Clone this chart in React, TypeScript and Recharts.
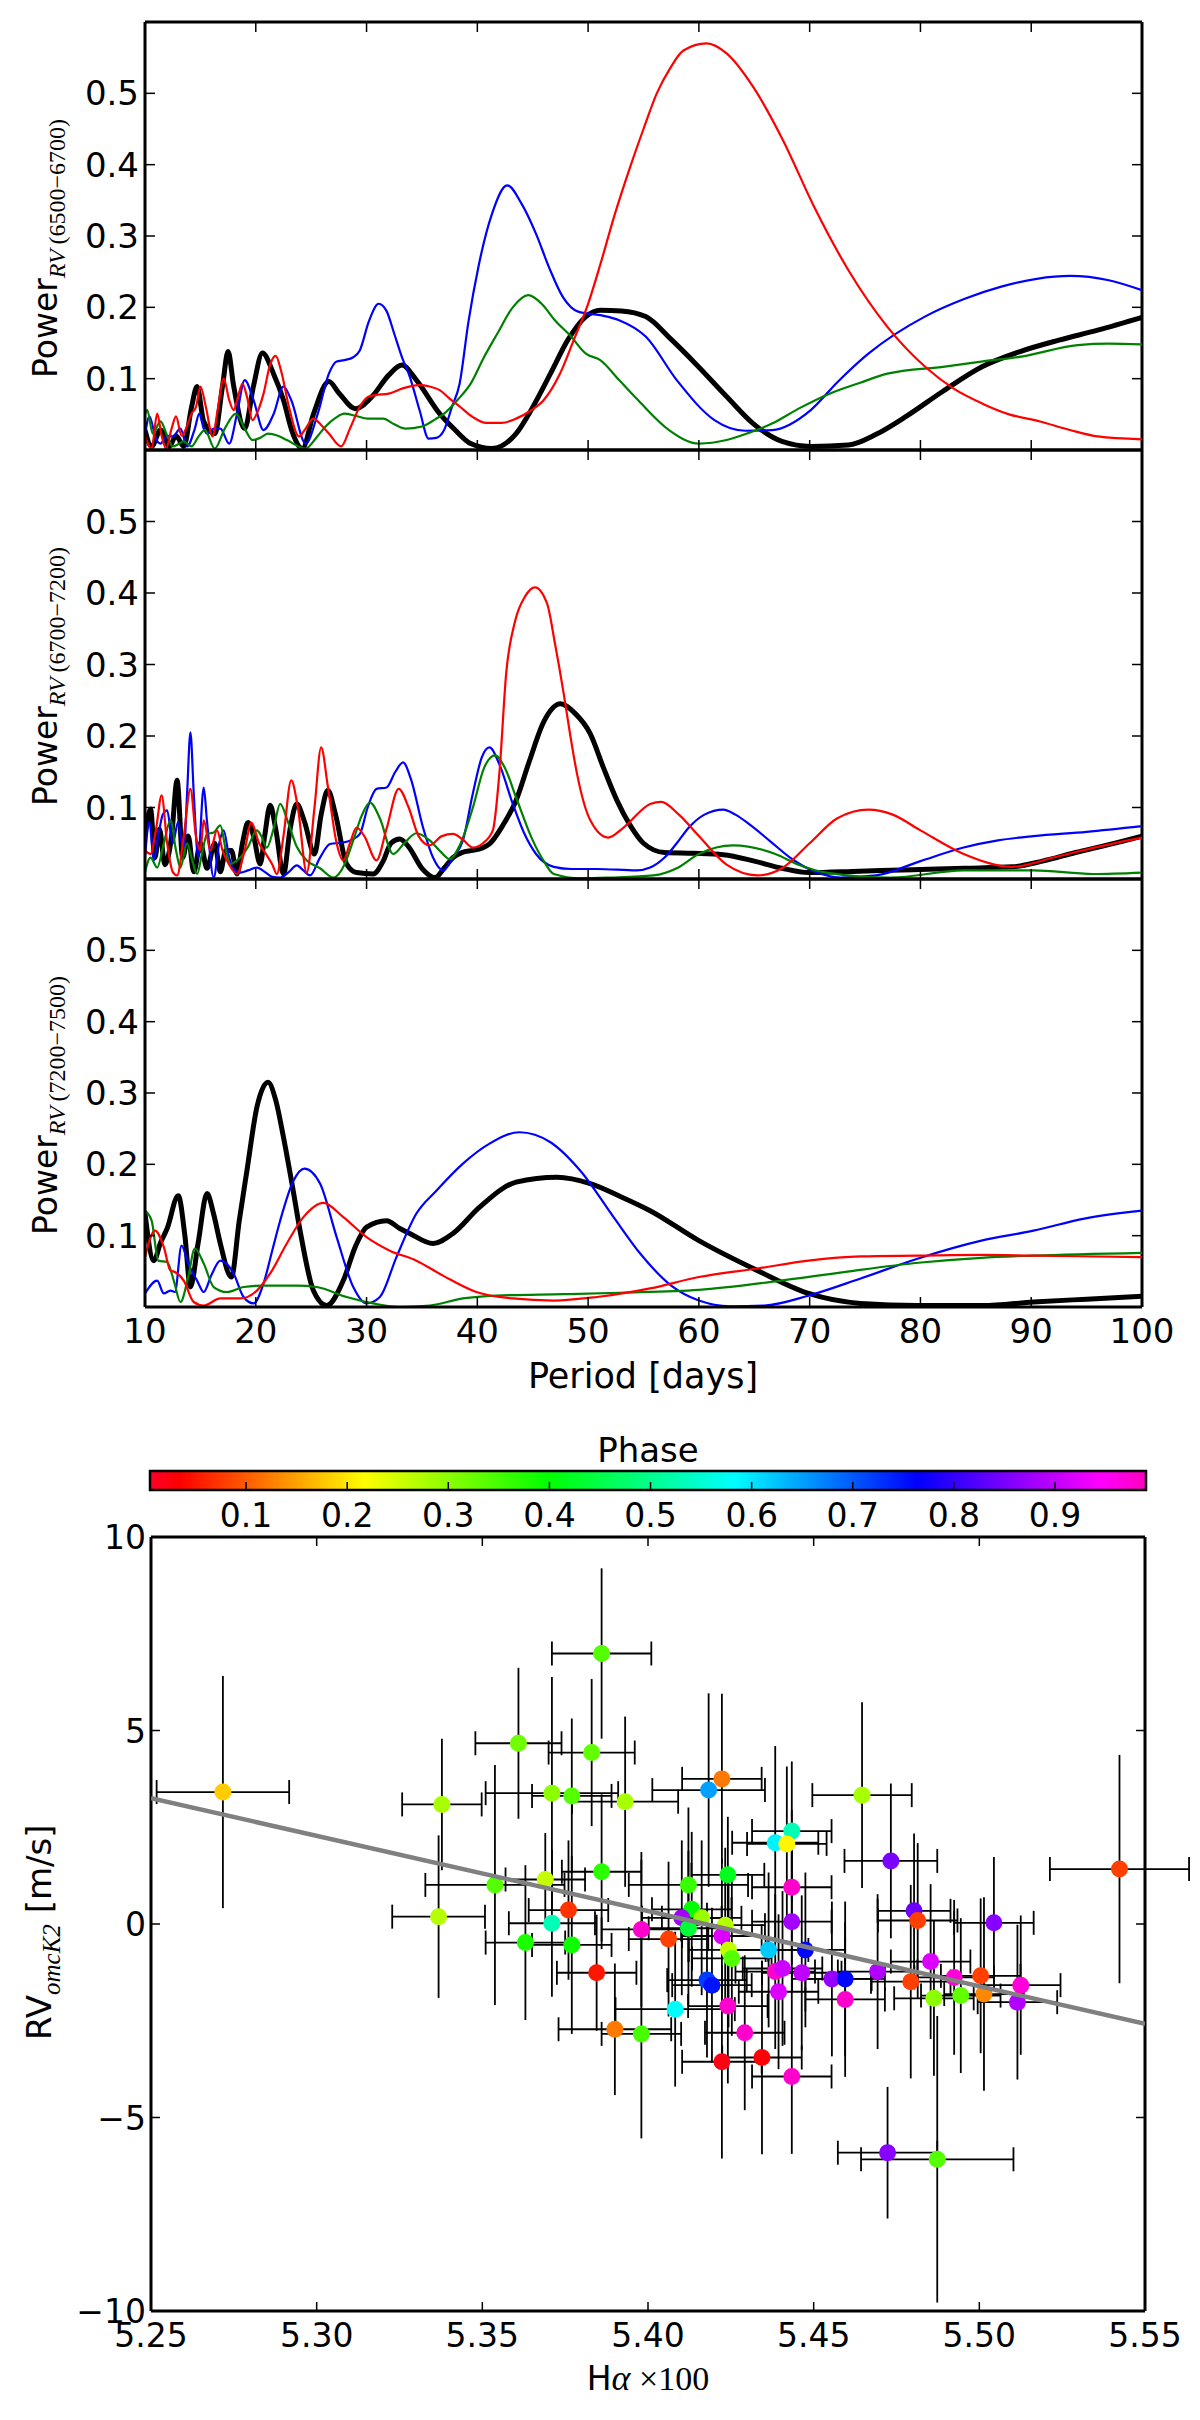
import React from 'react';
import {
  LineChart,
  Line,
  XAxis,
  YAxis,
  ComposedChart,
  Scatter,
  ErrorBar,
  ReferenceLine,
  ReferenceArea,
} from 'recharts';

const FONT = '"DejaVu Sans", sans-serif';
const MATH = '"Liberation Serif", "DejaVu Serif", serif';

// ---------- Periodogram data (period [days], power) ----------
type Pt = [number, number];

const periodTicks = [10, 20, 30, 40, 50, 60, 70, 80, 90, 100];
const powerTicks = [0.1, 0.2, 0.3, 0.4, 0.5];

const p1Black: Pt[] = [[10,0.028],[10.6,0.005],[11.4,0.028],[12.2,0.005],[12.8,0.02],[13.5,0.005],[14.2,0.06],[14.7,0.089],[15.3,0.04],[16.3,0.023],[17.0,0.09],[17.5,0.138],[18.0,0.09],[19.0,0.03],[19.8,0.09],[20.6,0.136],[21.6,0.107],[22.5,0.07],[23.3,0.025],[24.2,0.002],[25.2,0.05],[26.6,0.096],[27.5,0.08],[29.0,0.058],[30.5,0.075],[32,0.105],[33.2,0.119],[34.5,0.098],[36.6,0.051],[38,0.028],[39.4,0.009],[41.3,0.002],[43.5,0.023],[45,0.06],[46.6,0.107],[48.2,0.155],[49.8,0.187],[51.1,0.196],[53,0.195],[55.2,0.187],[57.5,0.155],[59.7,0.121],[62.5,0.075],[64.9,0.037],[67.5,0.012],[70.1,0.005],[73.5,0.007],[76,0.022],[78.7,0.047],[82,0.082],[85.6,0.117],[89,0.138],[92.5,0.154],[96,0.168],[100,0.186]];
const p1Blue: Pt[] = [[10,0.02],[10.4,0.047],[11,0.015],[11.4,0.009],[12,0.02],[12.5,0.019],[13.2,0.03],[13.8,0.005],[14.5,0.03],[14.9,0.051],[15.3,0.03],[15.6,0.023],[16.2,0.03],[16.8,0.03],[17.6,0.009],[18.3,0.05],[19.0,0.098],[19.8,0.07],[20.7,0.028],[21.6,0.05],[22.5,0.089],[23.2,0.07],[24.5,0.009],[25.6,0.051],[26.6,0.107],[27.3,0.124],[28.0,0.126],[28.8,0.13],[29.4,0.14],[30.2,0.18],[31.1,0.205],[31.8,0.195],[32.5,0.163],[33.2,0.13],[33.9,0.103],[34.8,0.055],[35.6,0.016],[36.3,0.017],[37.0,0.028],[37.7,0.06],[38.4,0.093],[39.2,0.18],[40.1,0.257],[41.3,0.33],[42.7,0.371],[44,0.345],[45.3,0.303],[46.5,0.255],[47.7,0.215],[49.1,0.194],[51.1,0.189],[52.8,0.182],[55.2,0.159],[58.0,0.098],[61.4,0.042],[64.2,0.027],[66.6,0.028],[70.1,0.056],[72.5,0.095],[75.3,0.135],[80.4,0.187],[84,0.212],[87.3,0.229],[90.5,0.24],[93.5,0.244],[97,0.238],[100,0.224]];
const p1Green: Pt[] = [[10,0.05],[10.2,0.056],[10.7,0.023],[11.4,0.04],[12.0,0.02],[12.5,0.005],[13.0,0.008],[13.5,0.012],[14.2,0.005],[14.8,0.018],[15.4,0.028],[16.3,0.002],[17.2,0.03],[18.2,0.051],[19.0,0.03],[19.7,0.014],[20.4,0.017],[21.1,0.023],[22.0,0.02],[22.8,0.014],[24.5,0.002],[25.5,0.018],[26.3,0.033],[27.2,0.045],[28.0,0.051],[29.0,0.048],[30.1,0.044],[31.5,0.044],[32.5,0.036],[33.5,0.03],[35.0,0.033],[36.2,0.043],[37.0,0.051],[38.2,0.07],[39.4,0.093],[40.6,0.13],[41.8,0.163],[43.2,0.2],[44.6,0.217],[45.8,0.205],[47.0,0.182],[48.4,0.16],[49.8,0.135],[51.1,0.126],[52.8,0.098],[54.5,0.07],[57.3,0.028],[60.0,0.009],[62.5,0.014],[64.5,0.024],[66.6,0.037],[69,0.058],[71.8,0.079],[74.5,0.094],[77.0,0.107],[82.2,0.117],[85.5,0.124],[89.1,0.131],[94.2,0.147],[97,0.149],[100,0.148]];
const p1Red: Pt[] = [[10,0.02],[10.6,0.002],[11.1,0.051],[11.5,0.02],[11.9,0.002],[12.4,0.03],[12.8,0.047],[13.3,0.02],[13.7,0.03],[14.2,0.051],[14.6,0.06],[15.0,0.089],[15.5,0.06],[16.1,0.019],[16.6,0.06],[17.1,0.1],[17.6,0.07],[18.0,0.056],[18.4,0.075],[18.8,0.093],[19.2,0.075],[19.7,0.042],[20.2,0.055],[20.7,0.079],[21.3,0.12],[21.8,0.132],[22.3,0.11],[23.0,0.06],[23.9,0.019],[24.5,0.03],[25.2,0.044],[25.9,0.035],[26.6,0.023],[27.7,0.005],[28.5,0.03],[29.4,0.061],[30.2,0.075],[30.8,0.077],[32,0.079],[33.2,0.086],[34.7,0.091],[35.7,0.089],[36.6,0.084],[37.5,0.072],[38.4,0.061],[39.6,0.046],[40.8,0.038],[42.2,0.038],[43.5,0.044],[44.8,0.055],[46.0,0.07],[47.4,0.105],[48.7,0.154],[50,0.205],[51.1,0.26],[52.4,0.33],[53.8,0.397],[55,0.45],[56.2,0.5],[57.4,0.535],[58.6,0.56],[60.7,0.57],[62.5,0.556],[64.9,0.509],[67.6,0.434],[70.4,0.341],[73.5,0.252],[77.0,0.173],[80.4,0.117],[83,0.086],[85.6,0.065],[88,0.05],[90.8,0.04],[93.5,0.028],[96.0,0.019],[100,0.015]];

const p2Black: Pt[] = [[10,0.06],[10.5,0.098],[10.9,0.03],[11.3,0.07],[11.8,0.02],[12.4,0.06],[12.9,0.138],[13.4,0.03],[13.9,0.06],[14.4,0.01],[15.0,0.05],[15.6,0.015],[16.3,0.05],[16.8,0.01],[17.3,0.04],[17.8,0.04],[18.3,0.007],[18.8,0.05],[19.3,0.079],[19.8,0.06],[20.4,0.021],[20.8,0.06],[21.3,0.103],[21.8,0.07],[22.5,0.007],[23.1,0.07],[23.7,0.105],[24.4,0.08],[25.3,0.035],[25.9,0.09],[26.5,0.124],[27.2,0.09],[28.2,0.021],[29.1,0.009],[30.6,0.007],[31.5,0.025],[32.2,0.05],[33.0,0.056],[33.8,0.045],[35.0,0.015],[36.2,0.002],[37.0,0.015],[37.8,0.03],[38.6,0.037],[39.6,0.04],[40.4,0.043],[41.1,0.049],[42.3,0.075],[43.5,0.11],[44.7,0.165],[46.0,0.22],[47.5,0.245],[48.8,0.232],[50.2,0.203],[51.4,0.155],[52.6,0.11],[53.8,0.075],[55.0,0.05],[56.9,0.037],[59.5,0.036],[62.2,0.034],[65,0.025],[67.5,0.015],[69.9,0.009],[74.5,0.011],[79.3,0.013],[84,0.015],[88.3,0.017],[91,0.025],[94,0.037],[97,0.048],[100,0.06]];
const p2Blue: Pt[] = [[10,0.03],[10.4,0.08],[10.8,0.026],[11.2,0.06],[11.6,0.09],[12.0,0.096],[12.5,0.05],[13.0,0.08],[13.5,0.035],[13.8,0.12],[14.1,0.205],[14.4,0.12],[14.8,0.03],[15.3,0.128],[15.6,0.08],[16.2,0.002],[16.7,0.05],[17.1,0.068],[17.6,0.03],[18.1,0.012],[18.6,0.009],[19.3,0.012],[20.1,0.016],[20.8,0.01],[21.5,0.003],[22.2,0.002],[23.0,0.01],[23.7,0.019],[24.3,0.012],[24.9,0.005],[25.8,0.03],[26.7,0.049],[27.9,0.051],[28.7,0.055],[29.4,0.063],[30.1,0.1],[30.9,0.126],[31.8,0.128],[32.6,0.15],[33.3,0.163],[34.0,0.14],[35.1,0.072],[36.0,0.03],[36.9,0.012],[37.8,0.03],[38.7,0.054],[39.6,0.12],[40.4,0.17],[41.1,0.184],[42.0,0.16],[43.2,0.105],[44.2,0.065],[45.3,0.035],[46.9,0.017],[48.5,0.014],[50.8,0.014],[54.4,0.012],[55.6,0.016],[56.9,0.03],[58.0,0.05],[59.1,0.072],[60.5,0.09],[62.2,0.097],[63.3,0.09],[64.6,0.076],[66.5,0.052],[68.4,0.028],[70.5,0.01],[72.8,0.002],[76.0,0.005],[80,0.025],[83.9,0.044],[87,0.054],[90.2,0.06],[95,0.066],[100,0.074]];
const p2Green: Pt[] = [[10,0.01],[10.5,0.03],[11.1,0.016],[11.7,0.05],[12.3,0.082],[12.8,0.04],[13.2,0.016],[13.8,0.05],[14.2,0.03],[14.7,0.007],[15.2,0.04],[15.6,0.063],[16.2,0.065],[16.8,0.075],[17.3,0.04],[17.7,0.021],[18.2,0.025],[18.6,0.03],[19.3,0.045],[20.1,0.068],[20.5,0.06],[21.0,0.044],[21.6,0.07],[22.2,0.105],[22.9,0.08],[23.7,0.045],[24.6,0.026],[25.8,0.015],[27.0,0.002],[28.0,0.02],[28.8,0.054],[29.6,0.09],[30.3,0.107],[31.2,0.085],[32.4,0.035],[33.4,0.05],[34.5,0.064],[35.7,0.054],[36.7,0.038],[37.5,0.028],[38.5,0.05],[39.6,0.1],[40.6,0.155],[41.6,0.173],[42.5,0.155],[43.5,0.114],[45.0,0.054],[46.0,0.025],[46.9,0.007],[49.3,0.001],[52,0.002],[55.9,0.005],[58,0.015],[60.0,0.035],[63.1,0.047],[66.9,0.035],[69,0.02],[71.5,0.009],[77.3,0.002],[83.9,0.012],[90.2,0.012],[95.6,0.007],[100,0.009]];
const p2Red: Pt[] = [[10,0.04],[10.5,0.035],[11.0,0.07],[11.5,0.117],[12.0,0.05],[12.5,0.01],[12.9,0.005],[13.5,0.06],[14.1,0.126],[14.6,0.06],[15.0,0.04],[15.3,0.082],[15.9,0.04],[16.5,0.068],[17.0,0.04],[17.6,0.02],[18.3,0.007],[19.0,0.04],[19.6,0.079],[20.3,0.05],[21.0,0.033],[21.5,0.02],[21.9,0.007],[22.5,0.06],[23.2,0.138],[23.8,0.1],[24.6,0.009],[25.3,0.1],[25.9,0.184],[26.5,0.13],[27.3,0.05],[27.9,0.026],[28.5,0.05],[29.1,0.072],[29.8,0.06],[30.9,0.026],[31.8,0.07],[32.9,0.126],[33.8,0.1],[34.7,0.06],[35.7,0.047],[36.8,0.06],[37.8,0.063],[38.7,0.055],[39.6,0.044],[40.5,0.05],[41.4,0.068],[42.0,0.15],[42.6,0.287],[43.4,0.36],[44.3,0.395],[45.2,0.408],[46.3,0.385],[47.0,0.33],[47.8,0.259],[48.4,0.2],[49.0,0.147],[50.2,0.082],[51.8,0.058],[53.2,0.072],[55.6,0.105],[56.6,0.108],[58.2,0.09],[60,0.06],[62.5,0.02],[65.3,0.005],[67.5,0.015],[70,0.05],[72.5,0.085],[75.3,0.097],[77.5,0.09],[80,0.068],[83.9,0.035],[88.3,0.017],[92,0.03],[96,0.045],[100,0.058]];

const p3Black: Pt[] = [[10,0.131],[10.8,0.065],[11.4,0.09],[12.0,0.11],[13.0,0.156],[13.6,0.1],[14.1,0.028],[14.8,0.09],[15.6,0.159],[16.2,0.13],[16.8,0.089],[17.8,0.042],[18.5,0.12],[19.2,0.191],[20.1,0.28],[21.1,0.315],[21.8,0.29],[22.5,0.238],[23.3,0.17],[24.0,0.107],[25.2,0.023],[26.4,0.002],[27.9,0.037],[29,0.085],[30.0,0.112],[31.8,0.121],[33.0,0.11],[33.9,0.103],[36.0,0.089],[37.8,0.103],[40.2,0.14],[43.5,0.175],[47.2,0.182],[50.2,0.173],[52.9,0.155],[55.6,0.135],[60.0,0.093],[65.3,0.051],[69.9,0.019],[74.6,0.005],[79.8,0.002],[85.6,0.002],[90.2,0.007],[95,0.011],[100,0.015]];
const p3Blue: Pt[] = [[10,0.019],[11.1,0.037],[11.7,0.019],[12.3,0.023],[12.7,0.021],[13.3,0.086],[13.9,0.061],[14.7,0.037],[15.3,0.021],[16.0,0.045],[16.8,0.065],[18.0,0.047],[18.9,0.014],[19.8,0.005],[20.7,0.033],[21.5,0.08],[22.2,0.121],[23.4,0.177],[24.4,0.194],[25.8,0.173],[27.3,0.098],[28.8,0.028],[30.0,0.005],[31.2,0.014],[32.7,0.07],[34.5,0.131],[36.3,0.163],[38.7,0.201],[41.1,0.229],[43.8,0.245],[46.6,0.231],[49.3,0.191],[52.3,0.126],[54.7,0.075],[57.5,0.03],[60.0,0.009],[62.8,0.001],[65.9,0.002],[69.9,0.016],[74.6,0.04],[79.8,0.068],[85.5,0.093],[90.2,0.107],[94.8,0.124],[100,0.135]];
const p3Green: Pt[] = [[10,0.135],[10.6,0.121],[11.2,0.065],[12.0,0.063],[12.6,0.037],[13.2,0.007],[13.9,0.042],[14.5,0.082],[15.3,0.061],[16.2,0.028],[17.4,0.021],[18.9,0.028],[20.7,0.03],[23.7,0.03],[25.5,0.028],[28.2,0.014],[30.6,0.005],[33.0,0.0],[35.7,0.002],[38.7,0.012],[41.7,0.016],[47.8,0.018],[52.9,0.02],[60.0,0.024],[66.9,0.036],[73.1,0.049],[79.8,0.062],[85.5,0.069],[90.2,0.072],[100,0.076]];
const p3Red: Pt[] = [[10,0.07],[10.9,0.107],[11.7,0.084],[12.3,0.051],[12.7,0.049],[13.5,0.037],[14.4,0.007],[15.3,0.002],[16.8,0.012],[18.6,0.012],[20.1,0.023],[21.3,0.047],[22.8,0.089],[24.3,0.126],[26.1,0.146],[27.9,0.126],[30.0,0.098],[32.1,0.079],[34.5,0.065],[36.9,0.044],[39.9,0.021],[43.2,0.012],[46.9,0.009],[50.8,0.014],[55.6,0.026],[60.0,0.042],[65.3,0.054],[69.9,0.065],[74.6,0.071],[79.8,0.072],[85.5,0.073],[90.2,0.072],[100,0.07]];

// ---------- Scatter data ----------
const haValues = [5.2717,5.3378,5.3368,5.3609,5.383,5.371,5.377,5.3538,5.369,5.376,5.371,5.363,5.377,5.3845,5.386,5.386,5.3931,5.39,5.398,5.398,5.4062,5.4122,5.4132,5.4102,5.4162,5.4122,5.4223,5.4183,5.4241,5.4233,5.4223,5.4243,5.4253,5.4178,5.4193,5.4082,5.4241,5.4292,5.4223,5.4344,5.4434,5.4384,5.4434,5.4419,5.4434,5.4434,5.4364,5.4475,5.4384,5.4406,5.4464,5.4394,5.4555,5.4595,5.4595,5.4646,5.4693,5.4733,5.4803,5.4814,5.5044,5.4793,5.4853,5.4924,5.5004,5.4863,5.4944,5.5014,5.5125,5.5115,5.5423,5.4723,5.4873];
const rvValues = [3.41,3.09,0.19,4.67,4.43,3.38,3.31,1.01,1.15,0.36,0.02,-0.48,-0.54,-1.26,6.99,1.35,3.16,-2.72,-2.84,-0.14,-0.39,1.01,0.38,0.16,0.16,-0.11,3.75,3.46,1.27,-0.03,-0.31,-0.67,-0.89,-1.45,-1.58,-2.2,-2.12,-2.81,-3.56,-3.45,-3.94,2.1,2.4,2.07,0.95,0.06,-0.67,-0.67,-1.23,-1.15,-1.26,-1.75,-1.42,-1.42,-1.95,3.33,-1.23,1.63,0.34,0.09,0.03,-1.49,-0.97,-1.38,-1.34,-1.92,-1.85,-1.81,-1.58,-2.02,1.42,-5.91,-6.08];
const haErrors = [0.02,0.012,0.014,0.013,0.013,0.02,0.012,0.021,0.012,0.012,0.013,0.012,0.012,0.012,0.015,0.012,0.016,0.017,0.012,0.012,0.012,0.018,0.012,0.012,0.012,0.012,0.012,0.017,0.011,0.012,0.012,0.012,0.012,0.012,0.012,0.018,0.012,0.012,0.012,0.012,0.012,0.013,0.012,0.012,0.012,0.012,0.012,0.012,0.012,0.012,0.012,0.012,0.012,0.012,0.012,0.015,0.012,0.014,0.011,0.012,0.012,0.012,0.012,0.012,0.012,0.012,0.012,0.012,0.012,0.012,0.021,0.015,0.023];
const rvErrors = [3.0,1.7,2.1,1.95,1.9,3.0,2.0,3.1,1.2,1.8,1.9,2.0,2.3,1.5,2.2,2.0,2.2,1.7,2.7,2.0,2.0,2.0,2.0,2.0,2.0,2.0,2.2,2.5,1.5,2.0,2.0,2.0,2.0,2.0,2.0,2.0,2.0,2.0,2.5,2.5,2.0,2.5,1.8,2.0,2.0,2.0,2.0,2.0,2.0,2.0,2.0,2.0,2.0,2.0,2.0,2.4,2.0,2.0,2.0,2.0,1.7,2.5,2.0,2.0,2.0,2.0,2.0,2.5,1.8,2.0,2.95,1.7,3.7];
const phaseValues = [0.18,0.28,0.27,0.32,0.33,0.3,0.34,0.34,0.26,0.07,0.53,0.38,0.39,0.05,0.34,0.37,0.28,0.12,0.35,0.98,0.08,0.36,0.4,0.88,0.29,0.44,0.12,0.65,0.42,0.27,0.92,0.26,0.34,0.72,0.75,0.58,0.98,0.98,0.02,0.03,0.98,0.59,0.53,0.21,0.98,0.88,0.62,0.76,0.98,0.91,0.9,0.92,0.87,0.76,0.98,0.28,0.89,0.85,0.84,0.08,0.86,0.08,0.92,0.97,0.08,0.3,0.33,0.13,0.97,0.89,0.08,0.86,0.34];

const haTicks = [5.25, 5.3, 5.35, 5.4, 5.45, 5.5, 5.55];
const rvTicks = [-10, -5, 0, 5, 10];
const phaseTicks = [0.1, 0.2, 0.3, 0.4, 0.5, 0.6, 0.7, 0.8, 0.9];
const PHASE_MIN = 0.005;
const PHASE_MAX = 0.99;

const fitHa = [5.25, 5.55];
const fitRv = [3.25, -2.58];

// gist_rainbow colormap
const GIST: [number, number, number, number][] = [
  [0, 1, 0, 0.16],
  [0.03, 1, 0, 0],
  [0.215, 1, 1, 0],
  [0.4, 0, 1, 0],
  [0.586, 0, 1, 1],
  [0.77, 0, 0, 1],
  [0.954, 1, 0, 1],
  [1, 1, 0, 0.75],
];
function cmap(t: number): string {
  const u = Math.max(0, Math.min(1, t));
  for (let i = 0; i < GIST.length - 1; i++) {
    const a = GIST[i];
    const b = GIST[i + 1];
    if (u <= b[0]) {
      const f = (u - a[0]) / (b[0] - a[0]);
      const c = [1, 2, 3].map((k) => Math.round(255 * (a[k] + (b[k] - a[k]) * f)));
      return `rgb(${c[0]},${c[1]},${c[2]})`;
    }
  }
  return 'rgb(255,0,191)';
}

const scatterRows = haValues.map((h, i) => ({
  h,
  rv: rvValues[i],
  eh: haErrors[i],
  erv: rvErrors[i],
  color: cmap((phaseValues[i] - PHASE_MIN) / (PHASE_MAX - PHASE_MIN)),
}));
const fitRows = fitHa.map((h, i) => ({ h, rv: fitRv[i] }));

const toRows = (pts: Pt[]) => pts.map(([d, v]) => ({ d, v }));

const PLOT_L = 145;
const PLOT_R = 1142;

type Series = { pts: Pt[]; color: string; w: number; name: string };

function Panel({
  top,
  height,
  series,
  sub,
  showX,
}: {
  top: number;
  height: number;
  series: Series[];
  sub: string;
  showX: boolean;
}) {
  const mt = 22;
  const mb = showX ? 100 : 12;
  const chartH = mt + height + mb;
  const plotW = PLOT_R - PLOT_L;
  const labelX = 57;
  const labelY = mt + 356;

  const xTick = (p: any) => {
    const { x, y, payload } = p;
    return (
      <g>
        <line x1={x} y1={y} x2={x} y2={y - 10} stroke="#000" strokeWidth={1.5} />
        <line x1={x} y1={y - height} x2={x} y2={y - height + 10} stroke="#000" strokeWidth={1.5} />
        {showX && (
          <text x={x} y={y + 36} textAnchor="middle" fontFamily={FONT} fontSize={34} fill="#000">
            {String(payload.value)}
          </text>
        )}
      </g>
    );
  };
  const yTick = (p: any) => {
    const { x, y, payload } = p;
    return (
      <g>
        <line x1={x} y1={y} x2={x + 10} y2={y} stroke="#000" strokeWidth={1.5} />
        <line x1={x + plotW} y1={y} x2={x + plotW - 10} y2={y} stroke="#000" strokeWidth={1.5} />
        <text x={x - 6} y={y + 12} textAnchor="end" fontFamily={FONT} fontSize={34} fill="#000">
          {String(payload.value)}
        </text>
      </g>
    );
  };

  return (
    <div style={{ position: 'absolute', left: 0, top: top - mt }}>
      <LineChart
        width={1200}
        height={chartH}
        margin={{ top: mt, right: 1200 - PLOT_R, bottom: mb - 1, left: PLOT_L - 1 }}
      >
        <XAxis
          dataKey="d"
          type="number"
          domain={[10, 100]}
          ticks={periodTicks}
          interval={0}
          allowDataOverflow
          height={1}
          tickSize={0}
          tickMargin={0}
          tickLine={false}
          axisLine={{ stroke: '#000', strokeWidth: 3 }}
          tick={xTick}
          label={
            showX
              ? () => (
                  <text x={643} y={mt + height + 81} textAnchor="middle" fontFamily={FONT} fontSize={35} fill="#000">
                    Period [days]
                  </text>
                )
              : undefined
          }
        />
        <YAxis
          type="number"
          domain={[0, 0.6]}
          ticks={powerTicks}
          interval={0}
          allowDataOverflow
          width={1}
          tickSize={0}
          tickMargin={0}
          tickLine={false}
          axisLine={{ stroke: '#000', strokeWidth: 3 }}
          tick={yTick}
          label={() => (
            <text
              x={labelX}
              y={labelY}
              transform={`rotate(-90 ${labelX} ${labelY})`}
              textAnchor="start"
              fontFamily={FONT}
              fontSize={33}
              fill="#000"
            >
              <tspan>Power</tspan>
              <tspan fontFamily={MATH} fontStyle="italic" fontSize={24} dy={8}>
                RV
              </tspan>
              <tspan fontFamily={MATH} fontSize={24}>
                {'\u2009' + sub}
              </tspan>
            </text>
          )}
        />
        <ReferenceLine y={0.6} stroke="#000" strokeWidth={3} />
        <ReferenceLine x={100} stroke="#000" strokeWidth={3} />
        {series.map((s) => (
          <Line
            key={s.name}
            data={toRows(s.pts)}
            dataKey="v"
            type="monotone"
            stroke={s.color}
            strokeWidth={s.w}
            dot={false}
            activeDot={false}
            isAnimationActive={false}
          />
        ))}
      </LineChart>
    </div>
  );
}

function ColorBar() {
  const top = 1420;
  const mt = 51;
  const h = 19;
  const mb = 50;
  const left = 150;
  const right = 1200 - 1146;
  const tick = (p: any) => {
    const { x, y, payload } = p;
    return (
      <g>
        <line x1={x} y1={y} x2={x} y2={y - 8} stroke="#000" strokeWidth={1.5} />
        <text x={x} y={y + 37} textAnchor="middle" fontFamily={FONT} fontSize={33} fill="#000">
          {String(payload.value)}
        </text>
      </g>
    );
  };
  const cornerRows = [
    { p: PHASE_MIN, y: 0 },
    { p: PHASE_MAX, y: 1 },
  ];
  return (
    <div style={{ position: 'absolute', left: 0, top }}>
      <ComposedChart width={1200} height={mt + h + mb} margin={{ top: mt, right, bottom: mb - 1, left }} data={cornerRows}>
        <defs>
          <linearGradient id="phaseGrad" x1="0" y1="0" x2="1" y2="0">
            {GIST.map((g) => (
              <stop
                key={g[0]}
                offset={`${g[0] * 100}%`}
                stopColor={`rgb(${Math.round(g[1] * 255)},${Math.round(g[2] * 255)},${Math.round(g[3] * 255)})`}
              />
            ))}
          </linearGradient>
        </defs>
        <XAxis
          dataKey="p"
          type="number"
          domain={[PHASE_MIN, PHASE_MAX]}
          ticks={phaseTicks}
          interval={0}
          allowDataOverflow
          height={1}
          tickSize={0}
          tickMargin={0}
          tickLine={false}
          axisLine={false}
          tick={tick}
        />
        <YAxis type="number" dataKey="y" domain={[0, 1]} hide width={0} />
        <ReferenceArea
          x1={PHASE_MIN}
          x2={PHASE_MAX}
          y1={0}
          y2={1}
          fill="url(#phaseGrad)"
          fillOpacity={1}
          stroke="#000"
          strokeWidth={2.5}
          label={() => (
            <text x={648} y={42} textAnchor="middle" fontFamily={FONT} fontSize={34} fill="#000">
              Phase
            </text>
          )}
        />
        <Scatter dataKey="y" isAnimationActive={false} shape={() => <g />} />
      </ComposedChart>
    </div>
  );
}

function ScatterPanel() {
  const top = 1500;
  const mt = 37;
  const h = 774;
  const mb = 109;
  const left = 151;
  const right = 1200 - 1145;
  const plotW = 1145 - 151;
  const fmtRv = (v: number) => (v < 0 ? '\u2212' + Math.abs(v) : String(v));
  const xTick = (p: any) => {
    const { x, y, payload } = p;
    return (
      <g>
        <line x1={x} y1={y} x2={x} y2={y - 9} stroke="#000" strokeWidth={1.5} />
        <line x1={x} y1={y - h} x2={x} y2={y - h + 9} stroke="#000" strokeWidth={1.5} />
        <text x={x} y={y + 36} textAnchor="middle" fontFamily={FONT} fontSize={33} fill="#000">
          {Number(payload.value).toFixed(2)}
        </text>
      </g>
    );
  };
  const yTick = (p: any) => {
    const { x, y, payload } = p;
    return (
      <g>
        <line x1={x} y1={y} x2={x + 9} y2={y} stroke="#000" strokeWidth={1.5} />
        <line x1={x + plotW} y1={y} x2={x + plotW - 9} y2={y} stroke="#000" strokeWidth={1.5} />
        <text x={x - 5} y={y + 12} textAnchor="end" fontFamily={FONT} fontSize={33} fill="#000">
          {fmtRv(Number(payload.value))}
        </text>
      </g>
    );
  };
  const lx = 51;
  const ly = 540;
  return (
    <div style={{ position: 'absolute', left: 0, top }}>
      <ComposedChart width={1200} height={mt + h + mb} margin={{ top: mt, right, bottom: mb - 1, left: left - 1 }}>
        <XAxis
          dataKey="h"
          type="number"
          domain={[5.25, 5.55]}
          ticks={haTicks}
          interval={0}
          allowDataOverflow
          height={1}
          tickSize={0}
          tickMargin={0}
          tickLine={false}
          axisLine={{ stroke: '#000', strokeWidth: 3 }}
          tick={xTick}
          label={() => (
            <text x={648} y={890} textAnchor="middle" fontFamily={FONT} fontSize={33} fill="#000">
              <tspan>H</tspan>
              <tspan fontFamily={MATH} fontStyle="italic" fontSize={36}>
                α
              </tspan>
              <tspan fontFamily={MATH} fontSize={34}>
                {' \u00d7100'}
              </tspan>
            </text>
          )}
        />
        <YAxis
          dataKey="rv"
          type="number"
          domain={[-10, 10]}
          ticks={rvTicks}
          interval={0}
          allowDataOverflow
          width={1}
          tickSize={0}
          tickMargin={0}
          tickLine={false}
          axisLine={{ stroke: '#000', strokeWidth: 3 }}
          tick={yTick}
          label={() => (
            <text
              x={lx}
              y={ly}
              transform={`rotate(-90 ${lx} ${ly})`}
              textAnchor="start"
              fontFamily={FONT}
              fontSize={34}
              fill="#000"
            >
              <tspan>RV</tspan>
              <tspan fontFamily={MATH} fontStyle="italic" fontSize={25} dy={9}>
                omcK2
              </tspan>
              <tspan dy={-9}>{' [m/s]'}</tspan>
            </text>
          )}
        />
        <ReferenceLine y={10} stroke="#000" strokeWidth={3} />
        <ReferenceLine x={5.55} stroke="#000" strokeWidth={3} />
        <Scatter data={scatterRows} dataKey="rv" isAnimationActive={false} shape={() => <g />}>
          <ErrorBar dataKey="eh" direction="x" width={12} stroke="#000" strokeWidth={1.8} isAnimationActive={false} />
          <ErrorBar dataKey="erv" direction="y" width={0.01} stroke="#000" strokeWidth={1.8} isAnimationActive={false} />
        </Scatter>
        <Scatter
          data={scatterRows}
          dataKey="rv"
          isAnimationActive={false}
          shape={(p: any) => <circle cx={p.cx} cy={p.cy} r={8.5} fill={p.payload.color} stroke="none" />}
        />
        <Scatter
          data={fitRows}
          dataKey="rv"
          isAnimationActive={false}
          line={{ stroke: '#808080', strokeWidth: 4.5 }}
          shape={() => <g />}
        />
      </ComposedChart>
    </div>
  );
}

export default function App() {
  const sBlack = (pts: Pt[]): Series => ({ pts, color: '#000000', w: 5, name: 'black' });
  const sBlue = (pts: Pt[]): Series => ({ pts, color: '#0000ff', w: 2.2, name: 'blue' });
  const sGreen = (pts: Pt[]): Series => ({ pts, color: '#008000', w: 2.2, name: 'green' });
  const sRed = (pts: Pt[]): Series => ({ pts, color: '#ff0000', w: 2.2, name: 'red' });
  return (
    <div style={{ position: 'absolute', left: 0, top: 0, width: 1200, height: 2420, background: '#fff' }}>
      <Panel
        top={22}
        height={428}
        sub={'(6500\u22126700)'}
        showX={false}
        series={[sBlack(p1Black), sBlue(p1Blue), sGreen(p1Green), sRed(p1Red)]}
      />
      <Panel
        top={450}
        height={429}
        sub={'(6700\u22127200)'}
        showX={false}
        series={[sBlack(p2Black), sBlue(p2Blue), sGreen(p2Green), sRed(p2Red)]}
      />
      <Panel
        top={879}
        height={428}
        sub={'(7200\u22127500)'}
        showX={true}
        series={[sBlack(p3Black), sBlue(p3Blue), sGreen(p3Green), sRed(p3Red)]}
      />
      <ColorBar />
      <ScatterPanel />
    </div>
  );
}
